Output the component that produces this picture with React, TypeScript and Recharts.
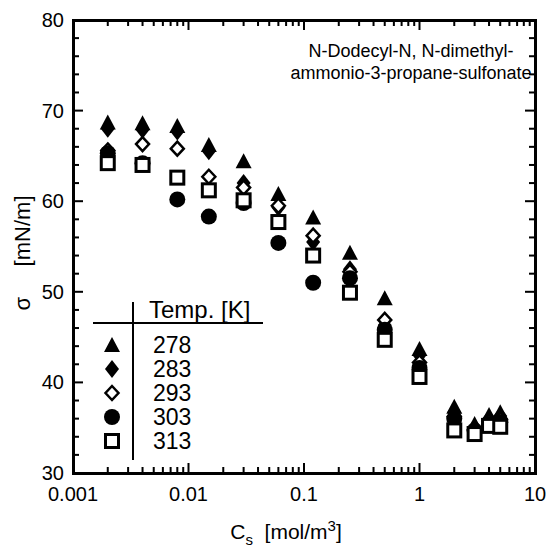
import React from 'react';
import { ScatterChart, Scatter, XAxis, YAxis, Customized } from 'recharts';

const FONT = '"Liberation Sans", Arial, Helvetica, sans-serif';

// concentrations C_s [mol/m3]
const conc = [0.002, 0.004, 0.008, 0.015, 0.03, 0.06, 0.12, 0.25, 0.5, 1, 2, 3, 4, 5];

// surface tension sigma [mN/m] per temperature
const sigma278 = [68.7, 68.6, 68.3, 66.2, 64.4, 60.8, 58.2, 54.3, 49.3, 43.7, 37.3, 35.4, 36.4, 36.7];
const sigma283 = [68.0, 67.9, 67.7, 65.5, 62.0, 59.3, 55.5, 52.5, 46.3, 43.0, 36.7, 35.0, 36.0, 36.3];
const sigma293 = [65.6, 66.3, 65.8, 62.7, 61.5, 59.5, 56.2, 52.2, 46.9, 42.2, 36.2, 34.8, 35.7, 35.9];
const sigma303 = [65.3, 64.2, 60.2, 58.3, 59.8, 55.4, 51.0, 51.5, 45.8, 41.6, 36.0, 34.7, 35.4, 35.6];
const sigma313 = [64.2, 64.0, 62.6, 61.2, 60.1, 57.7, 54.0, 49.9, 44.7, 40.6, 34.7, 34.3, 35.2, 35.1];

const temps = ['278', '283', '293', '303', '313'];
const kinds = ['tri', 'dia', 'odia', 'circ', 'sq'];
const sigmas = [sigma278, sigma283, sigma293, sigma303, sigma313];

const xMajor = [0.001, 0.01, 0.1, 1, 10];
const xMult = [1, 2, 3, 4, 5, 6, 7, 8, 9];
const xTicks = xMajor.flatMap((m, i) => (i < xMajor.length - 1 ? xMult.map((k) => +(m * k).toPrecision(3)) : [m]));
const yTicks = [30, 32, 34, 36, 38, 40, 42, 44, 46, 48, 50, 52, 54, 56, 58, 60, 62, 64, 66, 68, 70, 72, 74, 76, 78, 80];

const isMajorX = (v: number) => xMajor.some((m) => Math.abs(v - m) < m * 1e-6);
const isMajorY = (v: number) => v % 10 === 0;

// layout
const W = 549;
const H = 549;
const M = { top: 20, right: 14, bottom: 46, left: 33 };
const Y_AXIS_W = 40;
const X_AXIS_H = 30;
const PX = M.left + Y_AXIS_W;
const PY = M.top;
const PW = W - PX - M.right;
const PH = H - PY - M.bottom - X_AXIS_H;

const Marker = ({ kind, cx, cy }: { kind: string; cx: number; cy: number }) => {
  switch (kind) {
    case 'tri':
      return <polygon points={`${cx},${cy - 8} ${cx + 8},${cy + 7} ${cx - 8},${cy + 7}`} fill="#000" />;
    case 'dia':
      return <polygon points={`${cx},${cy - 9} ${cx + 7},${cy} ${cx},${cy + 9} ${cx - 7},${cy}`} fill="#000" />;
    case 'odia':
      return (
        <polygon
          points={`${cx},${cy - 7} ${cx + 6.5},${cy} ${cx},${cy + 7} ${cx - 6.5},${cy}`}
          fill="#fff"
          stroke="#000"
          strokeWidth={2.5}
        />
      );
    case 'circ':
      return <circle cx={cx} cy={cy} r={8} fill="#000" />;
    default:
      return <rect x={cx - 6.5} y={cy - 6.5} width={13} height={13} fill="#fff" stroke="#000" strokeWidth={3} />;
  }
};

// bottom axis: label plus inward tick on bottom and top edge
const XTick = (p: any) => {
  const v = p.payload.value;
  const major = isMajorX(v);
  const len = major ? 10 : 6;
  return (
    <g>
      <rect x={p.x - 1} y={p.y - len} width={2} height={len} fill="#000" />
      <rect x={p.x - 1} y={p.y - PH} width={2} height={len} fill="#000" />
      {major && (
        <text x={p.x} y={p.y + 28} textAnchor="middle" fontSize={20} fontFamily={FONT} fill="#000">
          {String(v)}
        </text>
      )}
    </g>
  );
};

// left axis: label plus inward tick on left and right edge
const YTick = (p: any) => {
  const v = p.payload.value;
  const major = isMajorY(v);
  const len = major ? 10 : 6;
  return (
    <g>
      <rect x={p.x} y={p.y - 1} width={len} height={2} fill="#000" />
      <rect x={p.x + PW - len} y={p.y - 1} width={len} height={2} fill="#000" />
      {major && (
        <text x={p.x - 9} y={p.y + 7} textAnchor="end" fontSize={20} fontFamily={FONT} fill="#000">
          {v}
        </text>
      )}
    </g>
  );
};

const Annotations = () => (
  <g fontFamily={FONT} fill="#000">
    <text x={411} y={57} textAnchor="middle" fontSize={18}>N-Dodecyl-N, N-dimethyl-</text>
    <text x={411} y={79} textAnchor="middle" fontSize={18}>ammonio-3-propane-sulfonate</text>

    <line x1={93} x2={263} y1={323} y2={323} stroke="#000" strokeWidth={2} />
    <line x1={133} x2={133} y1={302} y2={460} stroke="#000" strokeWidth={2} />
    <text x={149} y={318} fontSize={24}>Temp. [K]</text>
    {temps.map((t, i) => (
      <g key={t}>
        <Marker kind={kinds[i]} cx={112} cy={345 + i * 24} />
        <text x={153} y={353 + i * 24} fontSize={23}>{t}</text>
      </g>
    ))}

    <text x={286} y={539} textAnchor="middle" fontSize={21}>
      C<tspan fontSize={15} dy={6}>s</tspan>
      <tspan dy={-6}>{'\u00a0\u00a0'}[mol/m</tspan>
      <tspan fontSize={15} dy={-8}>3</tspan>
      <tspan dy={8}>]</tspan>
    </text>
    <text x={0} y={0} transform="translate(30,253) rotate(-90)" textAnchor="middle" fontSize={22}>
      σ{'\u00a0\u00a0\u00a0\u00a0\u00a0'}[mN/m]
    </text>
  </g>
);

const common = {
  tickSize: 0,
  tickMargin: 0,
  tickLine: false,
  axisLine: false,
  interval: 0 as const,
  allowDataOverflow: true,
};

export default function App() {
  return (
    <div style={{ position: 'absolute', left: 0, top: 0, width: W, height: H, background: '#fff' }}>
      <ScatterChart width={W} height={H} margin={M}>
        <XAxis dataKey="c" type="number" scale="log" domain={[0.001, 10]} ticks={xTicks} height={X_AXIS_H} tick={<XTick />} {...common} />
        <YAxis dataKey="s" type="number" domain={[30, 80]} ticks={yTicks} width={Y_AXIS_W} tick={<YTick />} {...common} />
        {temps.map((t, i) => (
          <Scatter
            key={t}
            name={t}
            data={conc.map((c, j) => ({ c, s: sigmas[i][j] }))}
            isAnimationActive={false}
            shape={(p: any) => <Marker kind={kinds[i]} cx={p.cx} cy={p.cy} />}
          />
        ))}
        <Customized component={Annotations} />
      </ScatterChart>
      {/* plot frame */}
      <div
        style={{
          position: 'absolute',
          left: PX - 1.5,
          top: PY - 1.5,
          width: PW + 3,
          height: PH + 3,
          boxSizing: 'border-box',
          border: '3px solid #000',
          pointerEvents: 'none',
        }}
      />
    </div>
  );
}
